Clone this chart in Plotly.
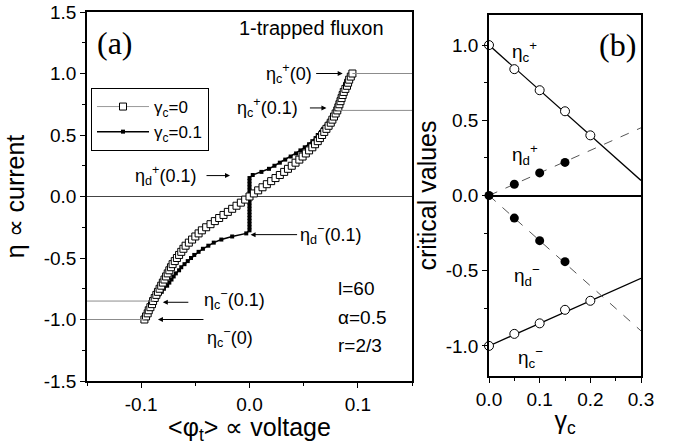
import plotly.graph_objects as go

# ---------------- Panel (a) data ----------------
# gamma_c = 0 : current eta vs mean voltage <phi_t>
eta_g0 = [-1.000, -0.975, -0.950, -0.925, -0.900, -0.875, -0.850, -0.825, -0.800, -0.775,
          -0.750, -0.725, -0.700, -0.675, -0.650, -0.625, -0.600, -0.575, -0.550, -0.525,
          -0.500, -0.475, -0.450, -0.425, -0.400, -0.375, -0.350, -0.325, -0.300, -0.275,
          -0.250, -0.225, -0.200, -0.175, -0.150, -0.125, -0.100, -0.075, -0.050, -0.025,
          0.000, 0.025, 0.050, 0.075, 0.100, 0.125, 0.150, 0.175, 0.200, 0.225,
          0.250, 0.275, 0.300, 0.325, 0.350, 0.375, 0.400, 0.425, 0.450, 0.475,
          0.500, 0.525, 0.550, 0.575, 0.600, 0.625, 0.650, 0.675, 0.700, 0.725,
          0.750, 0.775, 0.800, 0.825, 0.850, 0.875, 0.900, 0.925, 0.950, 0.975, 1.000]
v_g0 = [-0.097, -0.0955, -0.094, -0.093, -0.0915, -0.090, -0.089, -0.0875, -0.086, -0.0845,
        -0.083, -0.0815, -0.080, -0.0785, -0.077, -0.0755, -0.074, -0.0725, -0.071, -0.069,
        -0.067, -0.065, -0.063, -0.061, -0.059, -0.056, -0.053, -0.050, -0.047, -0.044,
        -0.040, -0.036, -0.032, -0.028, -0.024, -0.020, -0.016, -0.012, -0.008, -0.004,
        0.000, 0.004, 0.008, 0.012, 0.016, 0.020, 0.024, 0.028, 0.032, 0.0355,
        0.039, 0.0425, 0.046, 0.049, 0.052, 0.055, 0.058, 0.0605, 0.063, 0.065,
        0.067, 0.069, 0.071, 0.073, 0.075, 0.0765, 0.078, 0.0795, 0.081, 0.082,
        0.083, 0.084, 0.085, 0.086, 0.087, 0.0885, 0.090, 0.091, 0.092, 0.0935, 0.095]

# gamma_c = 0.1
eta_g01 = [-0.850, -0.825, -0.800, -0.775, -0.750, -0.725, -0.700, -0.675, -0.650, -0.625,
           -0.600, -0.575, -0.550, -0.525, -0.500, -0.475, -0.450, -0.425, -0.400, -0.375,
           -0.350, -0.325, -0.300, -0.275, -0.250, -0.225, -0.200, -0.175, -0.150, -0.125,
           -0.100, -0.075, -0.050, -0.025, 0.000, 0.025, 0.050, 0.075, 0.100, 0.125,
           0.150, 0.175, 0.200, 0.225, 0.250, 0.275, 0.300, 0.325, 0.350, 0.375,
           0.400, 0.425, 0.450, 0.475, 0.500, 0.525, 0.550, 0.575, 0.600, 0.625,
           0.650, 0.675, 0.700]
v_g01 = [-0.088, -0.086, -0.084, -0.081, -0.079, -0.076, -0.074, -0.072, -0.070, -0.068,
         -0.065, -0.063, -0.060, -0.057, -0.054, -0.051, -0.047, -0.043, -0.038, -0.033,
         -0.026, -0.016, -0.003, 0.000, 0.000, 0.000, 0.000, 0.000, 0.000, 0.000,
         0.000, 0.000, 0.000, 0.000, 0.000, 0.000, 0.000, 0.000, 0.000, 0.000,
         0.000, 0.003, 0.011, 0.018, 0.023, 0.028, 0.033, 0.038, 0.043, 0.047,
         0.051, 0.055, 0.058, 0.061, 0.063, 0.066, 0.068, 0.071, 0.073, 0.075,
         0.077, 0.079, 0.081]

# ---------------- Panel (b) data ----------------
gamma_pts = [0.0, 0.05, 0.10, 0.15, 0.20]
eta_c_plus = [1.00, 0.84, 0.70, 0.56, 0.40]
eta_c_minus = [-1.00, -0.92, -0.85, -0.76, -0.70]
gamma_d = [0.0, 0.05, 0.10, 0.15]
eta_d_plus = [0.00, 0.075, 0.15, 0.22]
eta_d_minus_g = [0.05, 0.10, 0.15]
eta_d_minus = [-0.15, -0.30, -0.44]
# fitted lines
gamma_fit = [0.0, 0.3]
fit_c_plus = [1.00, 0.10]
fit_c_minus = [-1.00, -0.55]
fit_d_plus = [0.00, 0.45]
fit_d_minus = [0.00, -0.90]

XA_RANGE = [-0.15, 0.15]
YA_RANGE = [-1.5, 1.5]

FONT = "Arial, Liberation Sans, sans-serif"
SERIF = "Liberation Serif, Times New Roman, serif"

W, H = 680, 445


def fx(px):
    return px / W


def fy(py):
    return (H - py) / H


fig = go.Figure()

# panel (a)
fig.add_trace(go.Scatter(
    x=v_g01, y=eta_g01, mode="lines+markers", name="γ<sub>c</sub>=0.1",
    line=dict(color="black", width=1.5),
    marker=dict(symbol="square", size=4, color="black"),
    legendrank=2, xaxis="x", yaxis="y"))
fig.add_trace(go.Scatter(
    x=v_g0, y=eta_g0, mode="lines+markers", name="γ<sub>c</sub>=0",
    line=dict(color="#9a9a9a", width=1),
    marker=dict(symbol="square", size=7, color="white", line=dict(color="black", width=1)),
    legendrank=1, xaxis="x", yaxis="y", cliponaxis=False))

# panel (b)
for yy, dash, col, w in [(fit_c_plus, "solid", "black", 1.3), (fit_c_minus, "solid", "black", 1.3),
                         (fit_d_plus, "dash", "#555555", 1), (fit_d_minus, "dash", "#555555", 1)]:
    fig.add_trace(go.Scatter(x=gamma_fit, y=yy, mode="lines", showlegend=False,
                             line=dict(color=col, width=w, dash=dash),
                             xaxis="x2", yaxis="y2"))
for xx, yy in [(gamma_pts, eta_c_plus), (gamma_pts, eta_c_minus)]:
    fig.add_trace(go.Scatter(x=xx, y=yy, mode="markers", showlegend=False, cliponaxis=False,
                             marker=dict(symbol="circle", size=9, color="white",
                                         line=dict(color="black", width=1)),
                             xaxis="x2", yaxis="y2"))
for xx, yy in [(gamma_d, eta_d_plus), (eta_d_minus_g, eta_d_minus)]:
    fig.add_trace(go.Scatter(x=xx, y=yy, mode="markers", showlegend=False, cliponaxis=False,
                             marker=dict(symbol="circle", size=9, color="black"),
                             xaxis="x2", yaxis="y2"))

# reference lines for critical currents (panel a)
shapes = []
gray = "#8c8c8c"
shapes.append(dict(type="line", xref="x", yref="y", x0=v_g0[-1], x1=XA_RANGE[1],
                   y0=eta_g0[-1], y1=eta_g0[-1], line=dict(color=gray, width=1)))
shapes.append(dict(type="line", xref="x", yref="y", x0=v_g01[-1], x1=XA_RANGE[1],
                   y0=eta_g01[-1], y1=eta_g01[-1], line=dict(color=gray, width=1)))
shapes.append(dict(type="line", xref="x", yref="y", x0=XA_RANGE[0], x1=v_g01[0],
                   y0=eta_g01[0], y1=eta_g01[0], line=dict(color=gray, width=1)))
shapes.append(dict(type="line", xref="x", yref="y", x0=XA_RANGE[0], x1=v_g0[0],
                   y0=eta_g0[0], y1=eta_g0[0], line=dict(color=gray, width=1)))

ann = []


def text(x, y, t, size=18, xref="x", yref="y", family=FONT, xanchor="center"):
    ann.append(dict(x=x, y=y, xref=xref, yref=yref, text=t, showarrow=False,
                    font=dict(size=size, family=family, color="black"), xanchor=xanchor))


def arrow(x, y, ax, xref="x", yref="y"):
    ann.append(dict(x=x, y=y, xref=xref, yref=yref, text="", showarrow=True,
                    ax=ax, ay=0, arrowhead=2, arrowsize=1, arrowwidth=1,
                    arrowcolor="black", standoff=0))


# panel (a) labels
text(-0.124, 1.25, "(a)", size=32, family=SERIF)
text(0.057, 1.366, "1-trapped fluxon", size=20)
text(0.036, 1.0, "η<sub>c</sub><sup>+</sup>(0)")
arrow(0.086, 1.0, -28)
text(0.017, 0.72, "η<sub>c</sub><sup>+</sup>(0.1)")
arrow(0.071, 0.72, -18)
text(-0.078, 0.17, "η<sub>d</sub><sup>+</sup>(0.1)")
arrow(-0.018, 0.17, -25)
text(0.045, -0.31, "η<sub>d</sub><sup>−</sup>(0.1)", xanchor="left")
arrow(0.001, -0.31, 48)
text(-0.014, -0.84, "η<sub>c</sub><sup>−</sup>(0.1)")
arrow(-0.080, -0.86, 27)
text(-0.018, -1.15, "η<sub>c</sub><sup>−</sup>(0)")
arrow(-0.0845, -1.0, 47)
text(0.080, -0.75, "l=60", size=19, xanchor="left")
text(0.080, -0.985, "α=0.5", size=19, xanchor="left")
text(0.080, -1.21, "r=2/3", size=19, xanchor="left")

# panel (b) labels
text(0.071, 0.96, "η<sub>c</sub><sup>+</sup>", size=19, xref="x2", yref="y2")
text(0.071, 0.27, "η<sub>d</sub><sup>+</sup>", size=19, xref="x2", yref="y2")
text(0.075, -0.53, "η<sub>d</sub><sup>−</sup>", size=19, xref="x2", yref="y2")
text(0.081, -1.08, "η<sub>c</sub><sup>−</sup>", size=19, xref="x2", yref="y2")
text(0.253, 1.0, "(b)", size=32, xref="x2", yref="y2", family=SERIF)

axis_common = dict(showline=True, linecolor="black", linewidth=1.5, mirror=True,
                   showgrid=False, ticks="outside", ticklen=5, tickwidth=1.2,
                   tickcolor="black", automargin=False, ticklabeloverflow="allow",
                   tickfont=dict(size=19, family=FONT, color="black"))
TITLE = 25

fig.update_layout(
    width=W, height=H,
    margin=dict(l=0, r=0, t=0, b=0),
    paper_bgcolor="white", plot_bgcolor="white",
    font=dict(family=FONT, color="black"),
    shapes=shapes, annotations=ann,
    showlegend=True,
    legend=dict(x=fx(91), y=fy(88), xanchor="left", yanchor="top",
                bgcolor="white", bordercolor="black", borderwidth=1,
                font=dict(size=17, family=FONT), itemwidth=52, tracegroupgap=0,
                entrywidth=128, entrywidthmode="pixels"),
    xaxis=dict(axis_common, domain=[fx(87), fx(412)], range=XA_RANGE, anchor="y",
               tickvals=[-0.1, 0.0, 0.1], ticktext=["-0.1", "0.0", "0.1"],
               minor=dict(dtick=0.05, tick0=0, ticks="outside", ticklen=3, tickcolor="black"),
               zeroline=False,
               title=dict(text="&lt;φ<sub>t</sub>&gt; ∝ voltage", font=dict(size=TITLE), standoff=3)),
    yaxis=dict(axis_common, domain=[fy(381), fy(12)], range=YA_RANGE,
               anchor="x",
               tickvals=[-1.5, -1.0, -0.5, 0.0, 0.5, 1.0, 1.5],
               ticktext=["-1.5", "-1.0", "-0.5", "0.0", "0.5", "1.0", "1.5"],
               minor=dict(dtick=0.25, tick0=0, ticks="outside", ticklen=3, tickcolor="black"),
               zeroline=True, zerolinecolor="#444444", zerolinewidth=1,
               title=dict(text="η ∝ current", font=dict(size=TITLE), standoff=12)),
    xaxis2=dict(axis_common, domain=[fx(489), fx(641)], range=[0, 0.3], anchor="y2",
                tickvals=[0, 0.1, 0.2, 0.3], ticktext=["0.0", "0.1", "0.2", "0.3"],
                minor=dict(dtick=0.05, tick0=0, ticks="outside", ticklen=3, tickcolor="black"),
                zeroline=False,
                title=dict(text="γ<sub>c</sub>", font=dict(size=TITLE), standoff=3)),
    yaxis2=dict(axis_common, domain=[fy(376), fy(15)], range=[-1.2, 1.2],
                anchor="x2",
                tickvals=[-1.0, -0.5, 0.0, 0.5, 1.0],
                ticktext=["-1.0", "-0.5", "0.0", "0.5", "1.0"],
                minor=dict(dtick=0.25, tick0=0, ticks="outside", ticklen=3, tickcolor="black"),
                zeroline=True, zerolinecolor="black", zerolinewidth=1.5,
                title=dict(text="critical values", font=dict(size=TITLE), standoff=2)),
)

# remove the default 8px page margin so the figure fills the 680x445 window exactly
fig.write_html("out.html", config={"displayModeBar": False},
               post_script="document.body.style.margin='0px';")
